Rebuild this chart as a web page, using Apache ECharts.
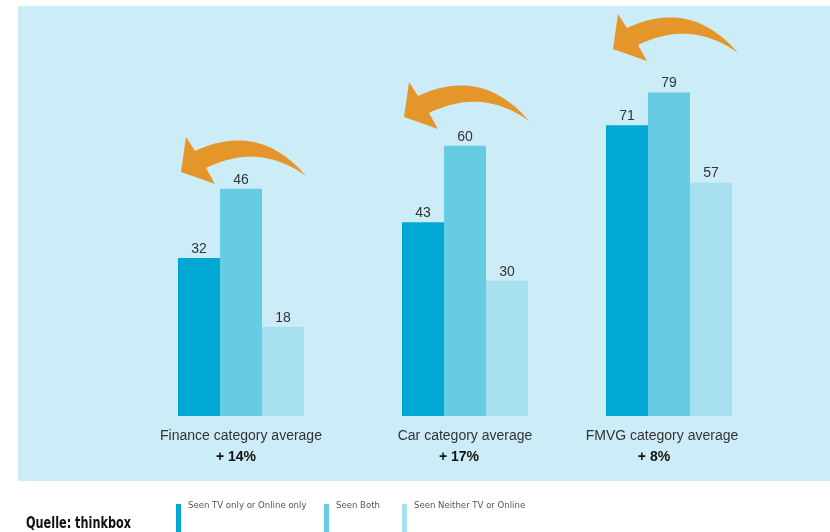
<!DOCTYPE html>
<html><head><meta charset="utf-8">
<script src="https://cdn.jsdelivr.net/npm/echarts@6/dist/echarts.min.js"></script>
<style>html,body{margin:0;padding:0;background:#fff}#c{width:830px;height:532px}</style>
</head><body><div id="c"></div>
<script>
// ---- data ----
const categories = ['Finance category average', 'Car category average', 'FMVG category average'];
const uplifts = ['+ 14%', '+ 17%', '+ 8%'];
const seriesNames = ['Seen TV only or Online only', 'Seen Both', 'Seen Neither TV or Online'];
const seenTvOrOnline = [32, 43, 71];
const seenBoth = [46, 60, 79];
const seenNeither = [18, 30, 57];
// each group in the source is drawn to its own scale
const axisMax = [81, 88.8, 97.7];

// ---- styles ----
const colors = ['#00A8D3', '#66CCE4', '#A6E0EF'];
const gridLefts = [178, 402, 606];
const labelShift = [0, 0, 14];
const upliftShift = [10, 12, 16];
const arrowTips = [[181, 172], [404, 117], [613, 49]];
const font = "'Liberation Sans', Arial, sans-serif";
const narrow = "'DejaVu Sans Condensed', 'Liberation Sans', sans-serif";

// arrow outline (decoration) built from two quadratic curves
function quad(p0, c, p1, n) {
  const pts = [];
  for (let i = 0; i <= n; i++) {
    const t = i / n, u = 1 - t;
    pts.push([u * u * p0[0] + 2 * u * t * c[0] + t * t * p1[0], u * u * p0[1] + 2 * u * t * c[1] + t * t * p1[1]]);
  }
  return pts;
}
const arrowShape = [[0, 0], [5, -35]]
  .concat(quad([14, -21], [78, -51], [125, 4], 30))
  .concat(quad([125, 4], [78, -30], [25, -4], 30).slice(1))
  .concat([[34, 12]]);

const values = [seenTvOrOnline, seenBoth, seenNeither];
const grids = [], xAxes = [], yAxes = [], series = [];
categories.forEach((cat, g) => {
  grids.push({ left: gridLefts[g], width: 126, top: 16, bottom: 116 });
  xAxes.push({
    type: 'category', gridIndex: g, data: [cat],
    axisLine: { show: false }, axisTick: { show: false },
    axisLabel: {
      interval: 0, margin: 10, padding: [0, labelShift[g], 0, 0],
      formatter: () => '{a|' + cat + '}\n{b|' + uplifts[g] + '}',
      rich: {
        a: { fontSize: 14, color: '#333', lineHeight: 21, fontFamily: font },
        b: { fontSize: 14, color: '#111', fontWeight: 'bold', lineHeight: 21, fontFamily: font, padding: [0, upliftShift[g], 0, 0] }
      }
    }
  });
  yAxes.push({ type: 'value', gridIndex: g, min: 0, max: axisMax[g], show: false, splitLine: { show: false } });
  seriesNames.forEach((name, s) => {
    series.push({
      name, type: 'bar', xAxisIndex: g, yAxisIndex: g,
      data: [values[s][g]], barWidth: 42, barGap: '0%',
      itemStyle: { color: colors[s] },
      label: { show: true, position: 'top', distance: 2, fontSize: 14, color: '#333', fontFamily: font },
      emphasis: { disabled: true }, animation: false
    });
  });
});

const legendLefts = [171, 319, 397];
const legends = seriesNames.map((name, i) => ({
  data: [name], left: legendLefts[i], top: 496, icon: 'rect',
  itemWidth: 5, itemHeight: 34, itemGap: 0, selectedMode: false,
  formatter: n => '{t|' + n + '}',
  textStyle: { rich: { t: { fontSize: 9.5, color: '#555', fontFamily: narrow, padding: [0, 0, 30, 2] } } }
}));

const graphic = [{ type: 'rect', z: -10, shape: { x: 18, y: 6, width: 812, height: 475 }, style: { fill: '#CCEDF7' }, silent: true }]
  .concat(arrowTips.map(t => ({ type: 'polygon', x: t[0], y: t[1], z: 10, shape: { points: arrowShape }, style: { fill: '#E5962A' }, silent: true })))
  .concat([{ type: 'text', x: 26, y: 515, scaleX: 0.76, style: { text: 'Quelle: thinkbox', fontFamily: narrow, fontWeight: 'bold', fontSize: 16.5, fill: '#111' }, silent: true }]);

const chart = echarts.init(document.getElementById('c'), null, { renderer: 'canvas' });
chart.setOption({
  animation: false,
  color: colors,
  legend: legends,
  grid: grids, xAxis: xAxes, yAxis: yAxes, series, graphic
});
</script></body></html>
